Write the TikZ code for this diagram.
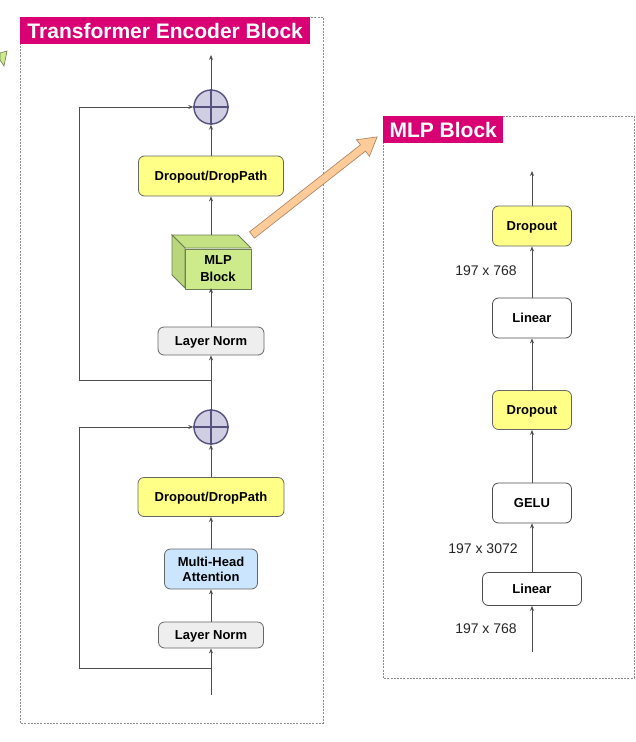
\documentclass[tikz,border=0pt]{standalone}
\usepackage{fontspec}
\setmainfont{Liberation Sans}
\usetikzlibrary{arrows.meta}
\definecolor{ttl}{HTML}{D80073}
\definecolor{yel}{HTML}{FFFF88}
\definecolor{lngray}{HTML}{EEEEEE}
\definecolor{mhablue}{HTML}{CCE5FF}
\definecolor{mlpgreen}{HTML}{CDEB8B}
\definecolor{mlpgreenL}{HTML}{B9D67A}
\definecolor{mlpgreenT}{HTML}{C4E283}
\definecolor{cubeline}{HTML}{6F7F55}
\definecolor{plusfill}{HTML}{D0CEE2}
\definecolor{plusline}{HTML}{56517E}
\definecolor{peach}{HTML}{FFCC99}
\definecolor{peachline}{HTML}{B08868}
\definecolor{boxline}{HTML}{666666}
\definecolor{flowline}{HTML}{4D4D4D}
\definecolor{frameline}{HTML}{8C8C8C}
\begin{document}
\begin{tikzpicture}[x=1pt,y=-1pt,
  box/.style={draw=boxline, rounded corners=6pt, line width=0.8pt, inner sep=0pt,
    font=\fontsize{13}{15}\selectfont\bfseries, align=center, text depth=0pt},
  yelbox/.style={box, fill=yel},
  graybox/.style={box, fill=lngray},
  whitebox/.style={box, fill=white, draw=flowline},
  bluebox/.style={box, fill=mhablue},
  plusnode/.style={circle, draw=plusline, fill=plusfill, line width=1.4pt, minimum size=34pt, inner sep=0pt},
  flow/.style={draw=flowline, line width=0.8pt, -{Stealth[length=5pt,width=4pt]}},
  frame/.style={draw=frameline, dash pattern=on 2pt off 1.2pt, line width=0.8pt},
  titlebar/.style={fill=ttl, text=white, font=\fontsize{21}{24}\selectfont\bfseries, inner sep=0pt, anchor=north west},
  dimlabel/.style={font=\fontsize{14}{16}\selectfont, text=black!85, inner sep=0pt}
]
\useasboundingbox (0,0) rectangle (635,742);
\fill[white] (0,0) rectangle (635,742);

% ---------- frames ----------
\draw[frame] (20,17) rectangle (323,723);
\draw[frame] (383,116) rectangle (634,678);
\node[titlebar, minimum width=290pt, minimum height=27pt] (t1) at (20,17) {Transformer Encoder Block};
\node[titlebar, minimum width=120pt, minimum height=27pt] (t2) at (383,116) {MLP Block};

% ---------- partial green arrow (top-left) ----------
\filldraw[fill=mlpgreen, draw=cubeline, line width=0.6pt] (0,53) -- (7,51) -- (4,66) -- (0,60) -- cycle;

% ---------- left column ----------
\coordinate (out1) at (211,55);
\node[plusnode] (plus1) at (211,107) {};
\draw[plusline, line width=1.4pt] (plus1.north) -- (plus1.south) (plus1.west) -- (plus1.east);
\node[yelbox, minimum width=145pt, minimum height=40pt] (drop1) at (211,176) {Dropout/DropPath};

% MLP cube
\filldraw[fill=mlpgreenT, draw=cubeline, line width=0.8pt] (172,235) -- (238,235) -- (251,248) -- (185,248) -- cycle;
\filldraw[fill=mlpgreenL, draw=cubeline, line width=0.8pt] (172,235) -- (185,248) -- (185,288) -- (172,275) -- cycle;
\node[draw=cubeline, fill=mlpgreen, line width=0.8pt, minimum width=66pt, minimum height=40pt, inner sep=0pt,
  font=\fontsize{13}{17}\selectfont\bfseries, align=center] (mlp) at (218,269) {MLP\\Block};
\coordinate (mlptop) at (211,235);
\coordinate (mlpbot) at (211,288);

\node[graybox, minimum width=106pt, minimum height=28pt] (ln1) at (211,341) {Layer Norm};
\coordinate (s1) at (211,380);
\coordinate (k1) at (79,380);
\node[plusnode] (plus2) at (211,427) {};
\draw[plusline, line width=1.4pt] (plus2.north) -- (plus2.south) (plus2.west) -- (plus2.east);
\node[yelbox, minimum width=146pt, minimum height=39pt] (drop2) at (211,497) {Dropout/DropPath};
\node[bluebox, minimum width=93pt, minimum height=40pt] (mha) at (211,569) {Multi-Head\\Attention};
\node[graybox, minimum width=105pt, minimum height=26pt] (ln2) at (211,635) {Layer Norm};
\coordinate (s2) at (211,668);
\coordinate (k2) at (79,668);
\coordinate (in1) at (211,695);

\draw[flow] (in1) -- (ln2.south);
\draw[flow] (ln2.north) -- (mha.south);
\draw[flow] (mha.north) -- (drop2.south);
\draw[flow] (drop2.north) -- (plus2.south);
\draw[flow] (plus2.north) -- (ln1.south);
\draw[flow] (ln1.north) -- (mlpbot);
\draw[flow] (mlptop) -- (drop1.south);
\draw[flow] (drop1.north) -- (plus1.south);
\draw[flow] (plus1.north) -- (out1);
\draw[flow] (s1) -- (k1) |- (plus1.west);
\draw[flow] (s2) -- (k2) |- (plus2.west);

% ---------- big peach arrow ----------
\begin{scope}[shift={(252,235)}, rotate=38.1]
\filldraw[fill=peach, draw=peachline, line width=0.7pt]
  (0,-4) -- (141,-4) -- (141,-10.5) -- (159,0) -- (141,10.5) -- (141,4) -- (0,4) -- cycle;
\end{scope}

% ---------- right column ----------
\coordinate (out2) at (532,171);
\node[yelbox, minimum width=79pt, minimum height=40pt] (dr1) at (532,226) {Dropout};
\node[whitebox, minimum width=79pt, minimum height=40pt] (lin1) at (532,318) {Linear};
\node[yelbox, minimum width=79pt, minimum height=39pt] (dr2) at (532,410) {Dropout};
\node[whitebox, minimum width=79pt, minimum height=40pt] (gelu) at (532,503) {GELU};
\node[whitebox, minimum width=99pt, minimum height=33pt] (lin2) at (532,589) {Linear};
\coordinate (in2) at (532,652);

\node[dimlabel] (d1) at (486,271) {197 x 768};
\node[dimlabel] (d2) at (483,549) {197 x 3072};
\node[dimlabel] (d3) at (486,629) {197 x 768};

\draw[flow] (in2) -- (lin2.south);
\draw[flow] (lin2.north) -- (gelu.south);
\draw[flow] (gelu.north) -- (dr2.south);
\draw[flow] (dr2.north) -- (lin1.south);
\draw[flow] (lin1.north) -- (dr1.south);
\draw[flow] (dr1.north) -- (out2);
\end{tikzpicture}
\end{document}
